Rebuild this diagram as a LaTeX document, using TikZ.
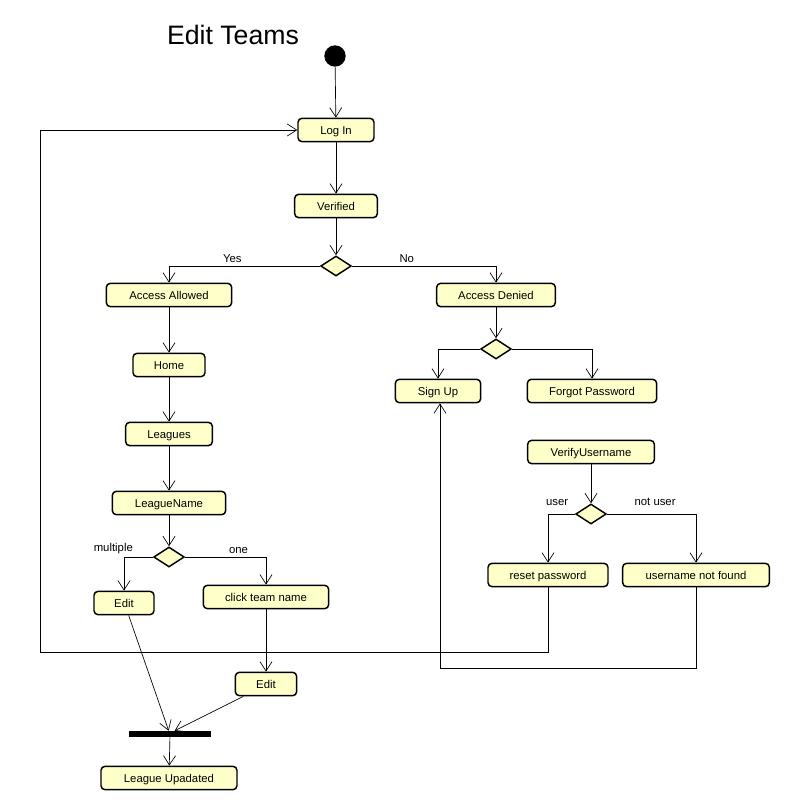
\documentclass[tikz,border=0pt]{standalone}
\usepackage{fontspec}
\setmainfont{Liberation Sans}
\usetikzlibrary{shapes.geometric,arrows.meta}

\definecolor{actfill}{RGB}{255,255,202}

\tikzset{
  action/.style={draw,line width=1.1pt,rounded corners=3pt,fill=actfill,inner sep=0pt,minimum height=17.5pt,text height=7pt,text depth=0pt,font=\fontsize{8.5}{10}\selectfont},
  decision/.style={draw,line width=1.1pt,shape=diamond,fill=actfill,inner sep=0pt,minimum width=23pt,minimum height=15pt},
  flow/.style={-{Straight Barb[length=7pt,width=9pt]},line width=0.5pt},
  lbl/.style={font=\fontsize{8.5}{10}\selectfont,inner sep=2pt}
}

\begin{document}
\begin{tikzpicture}[x=0.75pt,y=-0.75pt]
\useasboundingbox (0,0) rectangle (793,809);

\node[font=\fontsize{20}{24}\selectfont] (title) at (233,35) {Edit Teams};
\node[circle,fill=black,inner sep=0pt,minimum size=16pt] (start) at (335,56) {};

\node[action,minimum width=57pt] (login) at (336,130) {Log In};
\node[action,minimum width=62pt] (verified) at (336,206) {Verified};
\node[decision] (d1) at (336,266) {};

% allowed branch
\node[action,minimum width=94pt] (allowed) at (169,295) {Access Allowed};
\node[action,minimum width=54pt] (home) at (169,365) {Home};
\node[action,minimum width=65pt] (leagues) at (169,434) {Leagues};
\node[action,minimum width=85pt] (lname) at (169,503) {LeagueName};
\node[decision] (d2) at (169,557) {};
\node[action,minimum width=45pt] (editA) at (124,603) {Edit};
\node[action,minimum width=94pt] (click) at (266,597) {click team name};
\node[action,minimum width=46pt] (editB) at (266,684) {Edit};
\node[fill=black,inner sep=0pt,minimum width=61pt,minimum height=4.5pt] (join) at (170,734) {};
\node[action,minimum width=102pt] (updated) at (169,778) {League Upadated};

% denied branch
\node[action,minimum width=89pt] (denied) at (496,295) {Access Denied};
\node[decision] (d3) at (496,349) {};
\node[action,minimum width=64pt] (signup) at (438,391) {Sign Up};
\node[action,minimum width=97pt] (forgot) at (592,391) {Forgot Password};
\node[action,minimum width=95pt] (vuser) at (591,452) {VerifyUsername};
\node[decision] (d4) at (591,514) {};
\node[action,minimum width=90pt] (reset) at (548,575) {reset password};
\node[action,minimum width=110pt] (notfound) at (696,575) {username not found};

\coordinate (loopL) at (40,652);
\coordinate (loopR) at (440,668);

\draw[flow] (start) -- (login);
\draw[flow] (login) -- (verified);
\draw[flow] (verified) -- (d1);
\draw[flow] (d1.west) -| node[lbl,above,pos=0.29] {Yes} (allowed);
\draw[flow] (d1.east) -| node[lbl,above,pos=0.19] {No} (denied);

\draw[flow] (allowed) -- (home);
\draw[flow] (home) -- (leagues);
\draw[flow] (leagues) -- (lname);
\draw[flow] (lname) -- (d2);
\draw[flow] (d2.west) -| node[lbl,above,pos=0.5,xshift=-8pt] {multiple} (editA);
\draw[flow] (d2.east) -| node[lbl,above,pos=0.33] {one} (click);
\draw[flow] (click) -- (editB);
\draw[flow] ([xshift=3.5pt]editA.south) -- ([xshift=-1pt]join.north);
\draw[flow] ([xshift=-17pt]editB.south) -- ([xshift=3.5pt]join.north);
\draw[flow] (join) -- (updated);

\draw[flow] (denied) -- (d3);
\draw[flow] (d3.west) -| (signup);
\draw[flow] (d3.east) -| (forgot);
\draw[flow] (vuser) -- (d4);
\draw[flow] (d4.west) -| node[lbl,above,pos=0.33,yshift=4pt] {user} (reset);
\draw[flow] (d4.east) -| node[lbl,above,pos=0.27,yshift=4pt] {not user} (notfound);

% loops back
\draw[flow] (reset.south) |- (loopL) |- (login.west);
\draw[flow] (notfound.south) |- (loopR) -- (loopR |- signup.south);

\end{tikzpicture}
\end{document}
